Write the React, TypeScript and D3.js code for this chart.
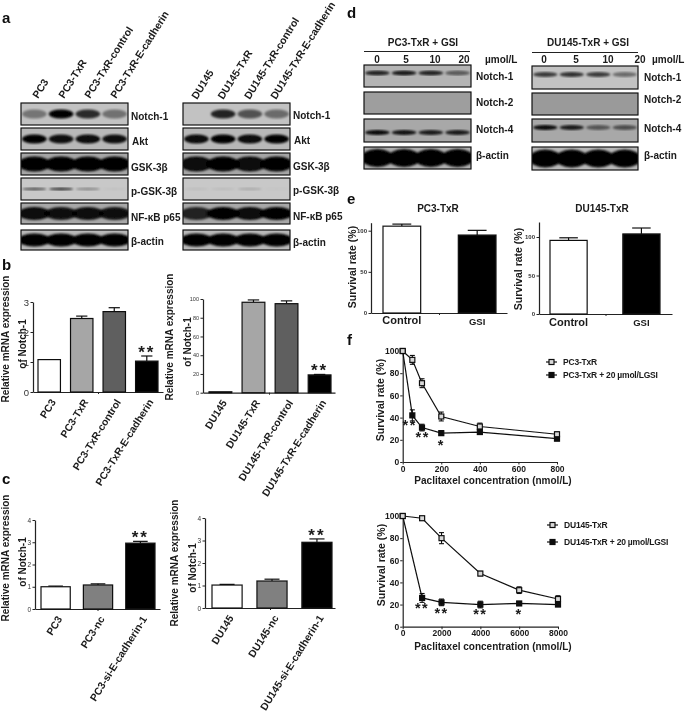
import { useEffect, useRef } from "react";
import * as d3 from "d3";

const FONT = "'Liberation Sans', Arial, sans-serif";

// panel a
const lanesPC3 = ["PC3", "PC3-TxR", "PC3-TxR-control", "PC3-TxR-E-cadherin"];
const lanesDU145 = ["DU145", "DU145-TxR", "DU145-TxR-control", "DU145-TxR-E-cadherin"];
const blotLabelsA = ["Notch-1", "Akt", "GSK-3β", "p-GSK-3β", "NF-κB p65", "β-actin"];
const bandsALeft = [
  [0.4, 1, 0.78, 0.42],
  [1, 0.92, 0.95, 0.92],
  [1, 1, 1, 1],
  [0.55, 0.7, 0.3, 0.03],
  [0.95, 0.9, 0.92, 0.9],
  [1, 1, 1, 1],
];
const bandsARight = [
  [0, 0.82, 0.58, 0.45],
  [0.95, 1, 0.95, 1],
  [0.95, 1, 0.95, 1],
  [0.05, 0.06, 0.14, 0.02],
  [0.8, 1, 0.95, 1],
  [1, 1, 1, 1],
];
const bgA = ["#c2c2c2", "#b8b8b8", "#a6a6a6", "#c8c8c8", "#a8a8a8", "#b8b8b8"];
const bandHeightA = [9, 9, 15, 3, 13, 13];

// panel d
const dosesLeft = ["0", "5", "10", "20"];
const blotLabelsD = ["Notch-1", "Notch-2", "Notch-4", "β-actin"];
const bandsDLeft = [
  [0.8, 0.85, 0.8, 0.5],
  [0, 0, 0, 0],
  [0.95, 0.9, 0.85, 0.85],
  [1, 1, 1, 1],
];
const bandsDRight = [
  [0.7, 0.75, 0.7, 0.45],
  [0, 0, 0, 0],
  [0.95, 0.85, 0.5, 0.55],
  [1, 1, 1, 1],
];
const bgD = ["#b4b4b4", "#9e9e9e", "#a8a8a8", "#b0b0b0"];
const bandHeightD = [5, 0, 5, 18];

// panel b
const bLeftValues = [1.08, 2.45, 2.68, 1.03];
const bLeftErrors = [0, 0.08, 0.13, 0.17];
const bRightValues = [1, 96.5, 95, 19];
const bRightErrors = [0, 2.5, 3, 0.5];
const bFills = ["#ffffff", "#a6a6a6", "#5e5e5e", "#000000"];
const bLeftStars = ["", "", "", "**"];

// panel c
const cLeftCats = ["PC3", "PC3-nc", "PC3-si-E-cadherin-1"];
const cLeftValues = [1, 1.08, 2.96];
const cLeftErrors = [0.03, 0.05, 0.08];
const cRightCats = ["DU145", "DU145-nc", "DU145-si-E-cadherin-1"];
const cRightValues = [1.02, 1.2, 2.92];
const cRightErrors = [0.03, 0.08, 0.15];
const cFills = ["#ffffff", "#808080", "#000000"];
const cStars = ["", "", "**"];

// panel e
const eCats = ["Control", "GSI"];
const eLeftValues = [105.5, 94.7];
const eLeftErrors = [2.5, 5.7];
const eRightValues = [95.6, 104];
const eRightErrors = [3.4, 7.7];
const eFills = ["#ffffff", "#000000"];

// panel f
const fTopDose = [0, 50, 100, 200, 400, 800];
const fTopControl = [100, 92, 71, 41, 32, 25];
const fTopControlErr = [0, 4, 4, 4, 3, 2];
const fTopGsi = [100, 42, 31, 26, 27, 21];
const fTopGsiErr = [0, 5, 3, 2, 2, 1.5];
const fTopStars = [
  { x: 36, y: 36, t: "**" },
  { x: 104, y: 25, t: "**" },
  { x: 200, y: 18, t: "*" },
];
const fBottomDose = [0, 1000, 2000, 4000, 6000, 8000];
const fBottomControl = [100, 98, 80, 48, 33, 25];
const fBottomControlErr = [1, 1.5, 5, 2, 3, 3];
const fBottomGsi = [100, 26, 22, 20, 21, 20];
const fBottomGsiErr = [1, 4, 3, 3, 1.5, 1];
const fBottomStars = [
  { x: 1000, y: 20, t: "**" },
  { x: 2000, y: 15, t: "**" },
  { x: 4000, y: 14, t: "**" },
  { x: 6000, y: 14, t: "*" },
];

let clipCount = 0;

function label(g, text, x, y, size = 10, opts: any = {}) {
  const t = g
    .append("text")
    .text(text)
    .attr("font-family", FONT)
    .attr("font-weight", opts.weight || "bold")
    .attr("font-size", size)
    .attr("fill", opts.fill || "#1a1a1a")
    .attr("text-anchor", opts.anchor || "start");
  if (opts.rotate !== undefined) {
    t.attr("transform", `translate(${x},${y}) rotate(${opts.rotate})`);
  } else {
    t.attr("x", x).attr("y", y);
  }
  if (opts.spacing) t.attr("letter-spacing", opts.spacing);
  return t;
}

function drawBlot(root, b) {
  const lane = d3.scaleBand().domain(d3.range(4)).range([b.x, b.x + b.w]);
  b.labels.forEach((name, i) => {
    const top = b.tops[i];
    const h = b.heights[i];
    const id = `clip${clipCount++}`;
    root
      .append("clipPath")
      .attr("id", id)
      .append("rect")
      .attr("x", b.x)
      .attr("y", top)
      .attr("width", b.w)
      .attr("height", h);
    const row = root.append("g").attr("clip-path", `url(#${id})`);
    row
      .append("rect")
      .attr("x", b.x)
      .attr("y", top)
      .attr("width", b.w)
      .attr("height", h)
      .attr("fill", b.bg[i]);
    row
      .append("g")
      .attr("filter", "url(#band)")
      .selectAll("ellipse")
      .data(b.bands[i])
      .join("ellipse")
      .attr("cx", (_, k) => lane(k) + lane.bandwidth() / 2)
      .attr("cy", top + h / 2 + (b.bandShift ? b.bandShift[i] : 0))
      .attr("rx", lane.bandwidth() * (b.bandHeight[i] > 10 ? 0.62 : 0.46))
      .attr("ry", b.bandHeight[i] / 2)
      .attr("fill", "#050505")
      .attr("opacity", (d) => d);
    root
      .append("rect")
      .attr("x", b.x)
      .attr("y", top)
      .attr("width", b.w)
      .attr("height", h)
      .attr("fill", "none")
      .attr("stroke", "#111")
      .attr("stroke-width", 1.2);
    label(root, name, b.labelX + (b.labelDx ? b.labelDx[i] : 0), b.labelY[i], 10);
  });
}

function styleAxis(sel, tickSize, weight, fill) {
  sel.selectAll("path.domain").attr("stroke", "#222").attr("stroke-width", 1.2);
  sel.selectAll(".tick line").attr("stroke", "#222").attr("stroke-width", 1);
  sel
    .selectAll(".tick text")
    .attr("font-family", FONT)
    .attr("font-size", tickSize)
    .attr("font-weight", weight)
    .attr("fill", fill);
}

function drawBars(root, c) {
  const y = d3.scaleLinear().domain(c.domain).range([c.y0, c.yTop]);
  const x = d3
    .scaleBand()
    .domain(c.cats)
    .range([c.barStart, c.barEnd])
    .paddingInner(c.padding);
  const gy = root
    .append("g")
    .attr("transform", `translate(${c.axisX},0)`)
    .call(
      d3
        .axisLeft(y)
        .tickValues(c.ticks)
        .tickFormat(d3.format("d"))
        .tickSize(2.5)
        .tickPadding(1.5)
        .tickSizeOuter(0)
    );
  styleAxis(gy, c.tickFont, c.tickWeight || "normal", "#333");
  const gx = root
    .append("g")
    .attr("transform", `translate(0,${c.y0})`)
    .call(
      d3
        .axisBottom(d3.scaleLinear().domain([0, 1]).range([c.axisX, c.axisEnd]))
        .tickValues([0.5])
        .tickFormat(() => "")
        .tickSize(2)
        .tickSizeOuter(0)
    );
  styleAxis(gx, 1, "normal", "#333");

  const bars = root.append("g");
  c.cats.forEach((cat, i) => {
    const cx = x(cat) + x.bandwidth() / 2;
    const top = y(c.values[i] + c.errors[i]);
    if (c.errors[i] > 0) {
      bars
        .append("line")
        .attr("x1", cx)
        .attr("x2", cx)
        .attr("y1", y(c.values[i]))
        .attr("y2", top)
        .attr("stroke", "#111")
        .attr("stroke-width", 1.2);
      bars
        .append("line")
        .attr("x1", cx - x.bandwidth() * 0.25)
        .attr("x2", cx + x.bandwidth() * 0.25)
        .attr("y1", top)
        .attr("y2", top)
        .attr("stroke", "#111")
        .attr("stroke-width", 1.2);
    }
    bars
      .append("rect")
      .attr("x", x(cat))
      .attr("y", y(c.values[i]))
      .attr("width", x.bandwidth())
      .attr("height", c.y0 - y(c.values[i]))
      .attr("fill", c.fills[i])
      .attr("stroke", "#111")
      .attr("stroke-width", 1.2);
    if (c.stars && c.stars[i]) {
      label(root, c.stars[i], cx, top + 2, 17, { anchor: "middle", spacing: 2 });
    }
    if (c.rotated) {
      label(root, cat, cx + c.labelDx, c.y0 + c.labelDy, 10.3, { anchor: "end", rotate: -58 });
    } else {
      label(root, cat, cx, c.labelY[i], c.labelSize[i], { anchor: "middle" });
    }
  });
  c.titles.forEach((t) => {
    label(root, t.text, t.x, t.y, t.size || 10, { anchor: "middle", rotate: -90 });
  });
}

function drawCurves(root, c) {
  const x = d3.scaleLinear().domain(c.xDomain).range([c.x0, c.x1]);
  const y = d3.scaleLinear().domain([0, 100]).range([c.y0, c.yTop]);
  const gx = root
    .append("g")
    .attr("transform", `translate(0,${c.y0})`)
    .call(
      d3
        .axisBottom(x)
        .tickValues(c.xTicks)
        .tickFormat(d3.format("d"))
        .tickSize(2.5)
        .tickPadding(1)
        .tickSizeOuter(0)
    );
  styleAxis(gx, 8.5, "bold", "#1a1a1a");
  const gy = root
    .append("g")
    .attr("transform", `translate(${c.x0},0)`)
    .call(
      d3
        .axisLeft(y)
        .tickValues([0, 20, 40, 60, 80, 100])
        .tickFormat(d3.format("d"))
        .tickSize(2.5)
        .tickPadding(1)
        .tickSizeOuter(0)
    );
  styleAxis(gy, 8.5, "bold", "#1a1a1a");

  const series = [
    { v: c.gsi, e: c.gsiErr, fill: "#111" },
    { v: c.control, e: c.controlErr, fill: "#d8d8d8" },
  ];
  const line = d3
    .line()
    .x((d) => x(d[0]))
    .y((d) => y(d[1]));
  series.forEach((s) => {
    const pts = c.dose.map((d, i) => [d, s.v[i], s.e[i]]);
    root
      .append("path")
      .attr("d", line(pts))
      .attr("fill", "none")
      .attr("stroke", "#111")
      .attr("stroke-width", 1.2);
    const g = root.append("g");
    pts.forEach((p) => {
      const px = x(p[0]);
      g.append("line")
        .attr("x1", px)
        .attr("x2", px)
        .attr("y1", y(p[1] - p[2]))
        .attr("y2", y(p[1] + p[2]))
        .attr("stroke", "#111")
        .attr("stroke-width", 1.1);
      [p[1] - p[2], p[1] + p[2]].forEach((v) =>
        g
          .append("line")
          .attr("x1", px - 2.5)
          .attr("x2", px + 2.5)
          .attr("y1", y(v))
          .attr("y2", y(v))
          .attr("stroke", "#111")
          .attr("stroke-width", 1.1)
      );
      g.append("rect")
        .attr("x", px - 2.5)
        .attr("y", y(p[1]) - 2.5)
        .attr("width", 5)
        .attr("height", 5)
        .attr("fill", s.fill)
        .attr("stroke", "#111")
        .attr("stroke-width", 1.2);
    });
  });
  c.stars.forEach((s) => {
    label(root, s.t, x(s.x), y(s.y) + 8, 14.5, { anchor: "middle", spacing: 1.5 });
  });
  label(root, "Survival rate (%)", c.titleX, c.titleY, 10.5, { anchor: "middle", rotate: -90 });
  label(root, "Paclitaxel concentration (nmol/L)", c.xTitleX, c.xTitleY, 10, { anchor: "middle" });

  c.legend.forEach((l, i) => {
    const g = root.append("g");
    g.append("line")
      .attr("x1", l.x)
      .attr("x2", l.x + 11)
      .attr("y1", l.y)
      .attr("y2", l.y)
      .attr("stroke", "#111")
      .attr("stroke-width", 1.2);
    g.append("rect")
      .attr("x", l.x + 3)
      .attr("y", l.y - 2.5)
      .attr("width", 5)
      .attr("height", 5)
      .attr("fill", i === 0 ? "#d8d8d8" : "#111")
      .attr("stroke", "#111")
      .attr("stroke-width", 1.2);
    label(root, l.text, l.x + 17, l.y + 3, 8.5, { spacing: -0.2 });
  });
}

export default function App() {
  const ref = useRef<SVGSVGElement>(null);

  useEffect(() => {
    const svg = d3.select(ref.current);
    svg.selectAll("*").remove();
    const defs = svg.append("defs");
    defs.append("filter").attr("id", "band").append("feGaussianBlur").attr("stdDeviation", 1);
    defs
      .append("filter")
      .attr("id", "soft")
      .attr("filterUnits", "userSpaceOnUse")
      .attr("x", 0)
      .attr("y", 0)
      .attr("width", 685)
      .attr("height", 713)
      .append("feGaussianBlur")
      .attr("stdDeviation", 0.35);
    const root = svg.append("g").attr("filter", "url(#soft)");

    // panel letters
    [
      ["a", 2, 23],
      ["b", 2, 270],
      ["c", 2, 484],
      ["d", 347, 18],
      ["e", 347, 204],
      ["f", 347, 345],
    ].forEach(([t, x, y]) => label(root, t, x, y, 15, { fill: "#111" }));

    // a: lane headers
    const headerXa = d3.scaleLinear().domain([0, 3]).range([38, 116]);
    lanesPC3.forEach((t, i) => label(root, t, headerXa(i), 99, 10.4, { rotate: -58 }));
    const headerXb = d3.scaleLinear().domain([0, 3]).range([197, 276]);
    lanesDU145.forEach((t, i) => label(root, t, headerXb(i), 100, 10.4, { rotate: -58 }));

    const topsA = [103, 128, 153, 178, 203, 230];
    const heightsA = [22, 22, 22, 22, 21, 20];
    drawBlot(root, {
      x: 21, w: 107, tops: topsA, heights: heightsA, bg: bgA, bands: bandsALeft,
      bandHeight: bandHeightA, labels: blotLabelsA, labelX: 131, labelDx: [0, 1, 0, 0, 0, 0],
      labelY: [120, 145, 171, 195, 221, 245],
    });
    drawBlot(root, {
      x: 183, w: 107, tops: topsA, heights: heightsA, bg: bgA, bands: bandsARight,
      bandHeight: bandHeightA, labels: blotLabelsA, labelX: 293, labelDx: [0, 1, 0, 0, 0, 0],
      labelY: [119, 144, 170, 194, 220, 246],
    });

    // d
    label(root, "PC3-TxR + GSI", 423, 46, 10, { anchor: "middle" });
    label(root, "DU145-TxR + GSI", 588, 46, 10, { anchor: "middle" });
    root.append("line").attr("x1", 364).attr("x2", 470).attr("y1", 51.5).attr("y2", 51.5).attr("stroke", "#222");
    root.append("line").attr("x1", 532).attr("x2", 638).attr("y1", 52.5).attr("y2", 52.5).attr("stroke", "#222");
    const doseL = d3.scalePoint().domain(dosesLeft).range([377, 464]);
    dosesLeft.forEach((t) => label(root, t, doseL(t), 63, 10, { anchor: "middle" }));
    const doseR = d3.scalePoint().domain(dosesLeft).range([544, 640]);
    dosesLeft.forEach((t) => label(root, t, doseR(t), 63, 10, { anchor: "middle" }));
    label(root, "µmol/L", 485, 63, 10);
    label(root, "µmol/L", 652, 63, 10);
    drawBlot(root, {
      x: 364, w: 107, tops: [65, 92, 119, 147], heights: [22, 22, 23, 22], bg: bgD, bands: bandsDLeft,
      bandHeight: bandHeightD, bandShift: [-3, 0, 2, 0], labels: blotLabelsD, labelX: 476,
      labelY: [80, 106, 133, 159],
    });
    drawBlot(root, {
      x: 532, w: 106, tops: [66, 93, 119, 147], heights: [23, 22, 23, 23], bg: ["#c2c2c2", "#9a9a9a", "#a8a8a8", "#b8b8b8"], bands: bandsDRight,
      bandHeight: bandHeightD, bandShift: [-3, 0, -3, 0], labels: blotLabelsD, labelX: 644,
      labelY: [81, 103, 132, 159],
    });

    // b
    drawBars(root, {
      cats: lanesPC3, values: bLeftValues, errors: bLeftErrors, fills: bFills, stars: bLeftStars,
      domain: [0, 3], ticks: [0, 1, 2, 3], tickFont: 9.5,
      axisX: 33, axisEnd: 163, y0: 392, yTop: 302, barStart: 38, barEnd: 158, padding: 0.31,
      rotated: true, labelDx: 7, labelDy: 10,
      titles: [
        { text: "Relative mRNA expression", x: 9, y: 339 },
        { text: "of Notch-1", x: 26, y: 344 },
      ],
    });
    drawBars(root, {
      cats: lanesDU145, values: bRightValues, errors: bRightErrors, fills: bFills, stars: bLeftStars,
      domain: [0, 100], ticks: [0, 20, 40, 60, 80, 100], tickFont: 5.5,
      axisX: 203, axisEnd: 335, y0: 392.7, yTop: 299, barStart: 209, barEnd: 331, padding: 0.31,
      rotated: true, labelDx: 7, labelDy: 10,
      titles: [
        { text: "Relative mRNA expression", x: 173, y: 337 },
        { text: "of Notch-1", x: 191, y: 342 },
      ],
    });

    // c
    drawBars(root, {
      cats: cLeftCats, values: cLeftValues, errors: cLeftErrors, fills: cFills, stars: cStars,
      domain: [0, 4], ticks: [0, 1, 2, 3, 4], tickFont: 6.5,
      axisX: 35, axisEnd: 160, y0: 609, yTop: 520, barStart: 41, barEnd: 155, padding: 0.31,
      rotated: true, labelDx: 7, labelDy: 10,
      titles: [
        { text: "Relative mRNA expression", x: 9, y: 558 },
        { text: "of Notch-1", x: 26, y: 562 },
      ],
    });
    drawBars(root, {
      cats: cRightCats, values: cRightValues, errors: cRightErrors, fills: cFills, stars: cStars,
      domain: [0, 4], ticks: [0, 1, 2, 3, 4], tickFont: 6.5,
      axisX: 205, axisEnd: 335, y0: 608, yTop: 518, barStart: 212, barEnd: 332, padding: 0.33,
      rotated: true, labelDx: 7, labelDy: 10,
      titles: [
        { text: "Relative mRNA expression", x: 178, y: 563 },
        { text: "of Notch-1", x: 196, y: 568 },
      ],
    });

    // e
    label(root, "PC3-TxR", 438, 212, 10, { anchor: "middle" });
    label(root, "DU145-TxR", 602, 212, 10, { anchor: "middle" });
    drawBars(root, {
      cats: eCats, values: eLeftValues, errors: eLeftErrors, fills: eFills,
      domain: [0, 109.7], ticks: [0, 50, 100], tickFont: 6, tickWeight: "bold",
      axisX: 371, axisEnd: 507, y0: 313, yTop: 222.7, barStart: 383, barEnd: 496, padding: 0.5,
      labelY: [324, 325], labelSize: [11, 9.5],
      titles: [{ text: "Survival rate (%)", x: 356, y: 267, size: 10.5 }],
    });
    drawBars(root, {
      cats: eCats, values: eRightValues, errors: eRightErrors, fills: eFills,
      domain: [0, 119.5], ticks: [0, 50, 100], tickFont: 6, tickWeight: "bold",
      axisX: 539, axisEnd: 672, y0: 314, yTop: 222, barStart: 550, barEnd: 660, padding: 0.49,
      labelY: [326, 326], labelSize: [11, 9.5],
      titles: [{ text: "Survival rate (%)", x: 522, y: 269, size: 10.5 }],
    });

    // f
    drawCurves(root, {
      xDomain: [0, 800], xTicks: [0, 200, 400, 600, 800], dose: fTopDose,
      control: fTopControl, controlErr: fTopControlErr, gsi: fTopGsi, gsiErr: fTopGsiErr, stars: fTopStars,
      x0: 402.7, x1: 557, y0: 462, yTop: 351, titleX: 384, titleY: 400, xTitleX: 493, xTitleY: 484,
      legend: [
        { text: "PC3-TxR", x: 546, y: 362 },
        { text: "PC3-TxR + 20 µmol/LGSI", x: 546, y: 375 },
      ],
    });
    drawCurves(root, {
      xDomain: [0, 8000], xTicks: [0, 2000, 4000, 6000, 8000], dose: fBottomDose,
      control: fBottomControl, controlErr: fBottomControlErr, gsi: fBottomGsi, gsiErr: fBottomGsiErr, stars: fBottomStars,
      x0: 402.7, x1: 558, y0: 626.7, yTop: 516, titleX: 385, titleY: 565, xTitleX: 493, xTitleY: 650,
      legend: [
        { text: "DU145-TxR", x: 547, y: 525 },
        { text: "DU145-TxR + 20 µmol/LGSI", x: 547, y: 542 },
      ],
    });
  }, []);

  return (
    <svg
      ref={ref}
      width={685}
      height={713}
      style={{ position: "absolute", left: 0, top: 0, background: "#fff" }}
    />
  );
}
